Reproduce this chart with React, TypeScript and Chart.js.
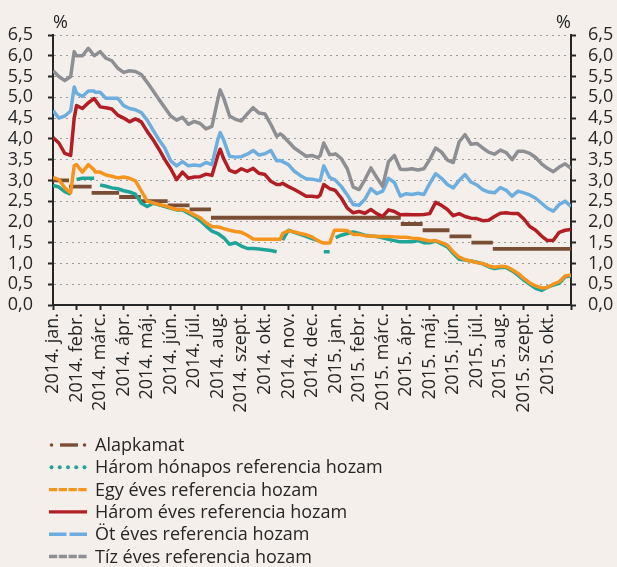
import React, { useEffect, useRef } from "react";
import { Chart, registerables } from "chart.js";
Chart.register(...registerables);

// x position = months elapsed since 2014-01-01
const dates = [
  0, 0.25, 0.5, 0.75, 0.9, 1, 1.25, 1.5, 1.75, 1.8,
  2, 2.25, 2.5, 2.75, 3, 3.25, 3.5, 3.75, 4, 4.25, 4.5, 4.75, 5, 5.25, 5.5, 5.75, 6, 6.25, 6.5, 6.75, 7,
  7.1,
  7.25, 7.5, 7.75, 8, 8.25, 8.5, 8.75, 9, 9.25, 9.5,
  9.65,
  9.75, 10, 10.25, 10.5, 10.75, 11, 11.25,
  11.35,
  11.5, 11.75,
  11.95,
  12, 12.25, 12.5, 12.75, 13, 13.25, 13.5, 13.75, 14, 14.25, 14.5, 14.75, 15, 15.25, 15.5, 15.75,
  16, 16.25, 16.5, 16.75, 17, 17.25, 17.5, 17.75, 18, 18.25, 18.5, 18.75, 19, 19.25, 19.5, 19.75,
  20, 20.25, 20.5, 20.75, 21, 21.25, 21.5, 21.75, 22,
];

const monthLabels = [
  "2014. jan.", "2014. febr.", "2014. márc.", "2014. ápr.", "2014. máj.", "2014. jún.",
  "2014. júl.", "2014. aug.", "2014. szept.", "2014. okt.", "2014. nov.", "2014. dec.",
  "2015. jan.", "2015. febr.", "2015. márc.", "2015. ápr.", "2015. máj.", "2015. jún.",
  "2015. júl.", "2015. aug.", "2015. szept.", "2015. okt.",
];

const seriesNames = [
  "Alapkamat",
  "Három hónapos referencia hozam",
  "Egy éves referencia hozam",
  "Három éves referencia hozam",
  "Öt éves referencia hozam",
  "Tíz éves referencia hozam",
];

// Base rate (step changes)
const baseRateStarts = [0, 0.68, 1.64, 2.81, 3.73, 4.87, 5.8, 6.71, 14.77, 15.7, 16.84, 17.77, 18.68];
const baseRateValues = [3.0, 2.85, 2.7, 2.6, 2.5, 2.4, 2.3, 2.1, 1.95, 1.8, 1.65, 1.5, 1.35];
const baseRateEnd = 22;

const threeMonth = [
  2.88, 2.84, 2.73, 2.67, null, 3.02, 3.05, 3.05, 3.05, null,
  2.89, 2.86, 2.82, 2.8, 2.75, 2.72, 2.67, 2.45, 2.37, 2.45, 2.41, 2.37, 2.33, 2.29, 2.29, 2.21, 2.13, 2.03, 1.9, 1.78, 1.72,
  1.68,
  1.62, 1.46, 1.5, 1.42, 1.36, 1.36, 1.35, 1.33, 1.31, 1.28,
  null,
  1.56, 1.8, 1.75, 1.7, 1.65, 1.6, 1.55,
  null,
  1.28, 1.28,
  null,
  1.62, 1.68, 1.72, 1.76, 1.72, 1.68, 1.66, 1.65, 1.62, 1.58, 1.55, 1.52, 1.52, 1.52, 1.55, 1.5,
  1.5, 1.54, 1.47, 1.4, 1.24, 1.1, 1.08, 1.06, 1.03, 0.99, 0.92, 0.88, 0.9, 0.9, 0.82, 0.72,
  0.6, 0.5, 0.4, 0.35, 0.43, 0.48, 0.52, 0.68, 0.7,
];

const oneYear = [
  3.07, 3.02, 2.82, 2.7, 3.35, 3.38, 3.2, 3.38, 3.25, 3.2,
  3.2, 3.13, 3.1, 3.06, 3.08, 3.05, 2.99, 2.75, 2.5, 2.46, 2.42, 2.39, 2.34, 2.3, 2.3, 2.25, 2.17, 2.1, 1.98, 1.89, 1.88,
  1.87,
  1.84, 1.8, 1.77, 1.75, 1.68, 1.59, 1.58, 1.58, 1.58, 1.58,
  1.58,
  1.72, 1.79, 1.76, 1.72, 1.69, 1.64, 1.55,
  1.52,
  1.49, 1.49,
  1.8,
  1.8, 1.8, 1.79, 1.7, 1.7, 1.67, 1.66, 1.65, 1.65, 1.65, 1.64, 1.63, 1.63, 1.61, 1.6, 1.57,
  1.54, 1.55, 1.5, 1.44, 1.28, 1.15, 1.09, 1.06, 1.02, 1.0, 0.94, 0.91, 0.93, 0.92, 0.85, 0.76,
  0.64, 0.53, 0.46, 0.41, 0.42, 0.5, 0.56, 0.7, 0.72,
];

const threeYear = [
  4.03, 3.9, 3.65, 3.6, 4.5, 4.8, 4.73, 4.87, 4.97, 4.93,
  4.77, 4.75, 4.72, 4.57, 4.5, 4.41, 4.48, 4.41, 4.18, 3.98, 3.75, 3.5, 3.28, 3.02, 3.2, 3.05, 3.08, 3.09, 3.15, 3.12, 3.6,
  3.75,
  3.52, 3.24, 3.19, 3.28, 3.22, 3.29, 3.17, 3.14, 2.98, 2.9,
  2.9,
  2.93, 2.85, 2.78, 2.7, 2.62, 2.62, 2.6,
  2.65,
  2.9, 2.8,
  2.77,
  2.75, 2.57, 2.33, 2.22, 2.25, 2.21, 2.3, 2.2, 2.13, 2.29, 2.25, 2.17, 2.18, 2.17, 2.17, 2.18,
  2.2, 2.47, 2.4, 2.3, 2.15, 2.2, 2.13, 2.09, 2.08, 2.03, 2.04, 2.13, 2.21, 2.22, 2.2, 2.2,
  2.07, 1.89, 1.8, 1.66, 1.55, 1.56, 1.75, 1.8, 1.82,
];

const fiveYear = [
  4.68, 4.5, 4.55, 4.67, 5.25, 5.1, 5.02, 5.15, 5.15, 5.12,
  5.12, 4.98, 4.98, 4.98, 4.8, 4.73, 4.7, 4.63, 4.45, 4.21, 3.98, 3.78, 3.47, 3.35, 3.45, 3.35, 3.37, 3.35, 3.43, 3.38, 3.98,
  4.15,
  3.97, 3.58, 3.56, 3.57, 3.63, 3.72, 3.61, 3.64, 3.72, 3.47,
  3.48,
  3.45, 3.38, 3.22, 3.12, 3.04, 3.03, 3.0,
  3.0,
  3.35, 3.07,
  3.02,
  3.0, 2.85, 2.65, 2.42, 2.4, 2.55, 2.8, 2.68, 2.74, 3.05, 2.95, 2.62, 2.68, 2.66, 2.69, 2.66,
  2.92, 3.16, 3.05, 2.9, 2.82, 3.0, 3.14, 2.96, 2.89, 2.78, 2.72, 2.7, 2.83, 2.76, 2.62, 2.74,
  2.7, 2.65, 2.57, 2.45, 2.33, 2.26, 2.42, 2.5, 2.37,
];

const tenYear = [
  5.64, 5.5, 5.4, 5.5, 6.1, 6.0, 6.0, 6.18, 6.0, 6.02,
  6.1, 5.94, 5.88, 5.7, 5.6, 5.64, 5.62, 5.55, 5.36, 5.16, 4.95, 4.75, 4.55, 4.45, 4.52, 4.35, 4.42, 4.37, 4.24, 4.3, 4.95,
  5.18,
  4.98, 4.55, 4.47, 4.43, 4.6, 4.75, 4.62, 4.6, 4.35, 4.06,
  4.12,
  4.08, 3.93, 3.78, 3.68, 3.58, 3.6, 3.55,
  3.6,
  3.9, 3.62,
  3.63,
  3.64, 3.52, 3.28, 2.84, 2.78, 3.02, 3.3, 3.07, 2.86, 3.45, 3.6, 3.27, 3.26, 3.28, 3.25, 3.28,
  3.5, 3.78, 3.68, 3.49, 3.43, 3.93, 4.1, 3.87, 3.89, 3.78, 3.68, 3.63, 3.73, 3.67, 3.5, 3.7,
  3.7, 3.65, 3.55, 3.4, 3.29, 3.21, 3.32, 3.4, 3.29,
];

const BG = "#f5efeb";
const TEXT = "#262626";
const AXIS = "#262626";
const FONT = "'Open Sans', sans-serif";
const COLORS = ["#7a4e35", "#1ea597", "#f7941d", "#b21e24", "#6daedf", "#8e8f93"];
const MARKERS = ["dashdot", "dots", "short", "solid", "long", "short"];

function pts(vals: (number | null)[]) {
  return dates.map((d, i) => ({ x: d, y: vals[i] }));
}

function baseRatePoints() {
  const out: { x: number; y: number | null }[] = [];
  baseRateStarts.forEach((s, i) => {
    const e = i + 1 < baseRateStarts.length ? baseRateStarts[i + 1] : baseRateEnd;
    out.push({ x: s, y: baseRateValues[i] });
    out.push({ x: e, y: baseRateValues[i] });
    if (i + 1 < baseRateStarts.length) out.push({ x: e, y: null });
  });
  return out;
}

function drawMarker(ctx: CanvasRenderingContext2D, kind: string, x0: number, x1: number, y: number, color: string) {
  ctx.save();
  ctx.strokeStyle = color;
  ctx.fillStyle = color;
  ctx.lineWidth = 3.4;
  ctx.lineCap = "butt";
  const line = (a: number, b: number) => {
    ctx.beginPath();
    ctx.moveTo(a, y);
    ctx.lineTo(b, y);
    ctx.stroke();
  };
  const dot = (cx: number, r: number) => {
    ctx.beginPath();
    ctx.arc(cx, y, r, 0, Math.PI * 2);
    ctx.fill();
  };
  if (kind === "dashdot") {
    dot(x0 + 2.5, 1.8);
    dot(x1 - 2.5, 1.8);
    line(x0 + 11, x1 - 9);
  } else if (kind === "dots") {
    for (let k = 0; k < 5; k++) dot(x0 + 2.5 + k * ((x1 - x0 - 5) / 4), 2);
  } else if (kind === "short") {
    ctx.setLineDash([8.2, 1.6]);
    line(x0, x1);
  } else if (kind === "long") {
    ctx.setLineDash([17.5, 3]);
    line(x0, x1);
  } else {
    line(x0, x1);
  }
  ctx.setLineDash([]);
  ctx.restore();
}

const decorPlugin = {
  id: "decor",
  beforeDraw(chart: any) {
    const { ctx, width, height } = chart;
    ctx.save();
    ctx.setLineDash([]);
    ctx.fillStyle = BG;
    ctx.fillRect(0, 0, width, height);
    ctx.restore();
  },
  afterDraw(chart: any) {
    const ctx: CanvasRenderingContext2D = chart.ctx;
    const area = chart.chartArea;
    ctx.save();
    ctx.fillStyle = TEXT;
    ctx.font = `18px ${FONT}`;
    ctx.textBaseline = "alphabetic";
    ctx.textAlign = "left";
    ctx.fillText("%", area.left, area.top - 7);
    ctx.textAlign = "right";
    ctx.fillText("%", area.right, area.top - 7);
    // legend (one column)
    const y0 = 445;
    const step = 22.3;
    ctx.textAlign = "left";
    ctx.textBaseline = "middle";
    seriesNames.forEach((name, i) => {
      const y = y0 + i * step;
      drawMarker(ctx, MARKERS[i], 49, 87, y, COLORS[i]);
      ctx.fillStyle = TEXT;
      ctx.fillText(name, 95, y + 1);
    });
    ctx.restore();
  },
};

export default function App() {
  const ref = useRef<HTMLCanvasElement>(null);
  useEffect(() => {
    document.body.style.margin = "0";
    document.body.style.background = BG;
    const seriesData = [baseRatePoints(), pts(threeMonth), pts(oneYear), pts(threeYear), pts(fiveYear), pts(tenYear)];
    const orders = [6, 5, 4, 3, 2, 1];
    const tickFont = { family: FONT, size: 18 };
    const chart = new Chart(ref.current as HTMLCanvasElement, {
      type: "line",
      data: {
        datasets: seriesData.map((d, i) => ({
          label: seriesNames[i],
          data: d,
          borderColor: COLORS[i],
          backgroundColor: COLORS[i],
          borderWidth: i === 0 ? 3.8 : 3.5,
          borderDash: [],
          borderCapStyle: "butt",
          pointRadius: 0,
          tension: 0,
          spanGaps: false,
          borderJoinStyle: "round",
          order: orders[i],
        })),
      },
      options: {
        animation: false,
        responsive: false,
        events: [],
        layout: { padding: { top: 35, bottom: 130, left: 0, right: 0 } },
        plugins: { legend: { display: false }, tooltip: { enabled: false } },
        scales: {
          x: {
            type: "linear",
            min: 0,
            max: 22,
            afterFit: (s: any) => {
              s.height = 132;
            },
            ticks: {
              stepSize: 1,
              autoSkip: false,
              maxRotation: 90,
              minRotation: 90,
              padding: 3,
              color: TEXT,
              font: tickFont,
              callback: (v: any) => monthLabels[Math.round(Number(v))] ?? "",
            },
            grid: {
              drawOnChartArea: false,
              drawTicks: true,
              tickLength: 5,
              tickColor: AXIS,
              tickWidth: 2,
            },
            border: { display: true, color: AXIS, width: 2 },
          },
          y: {
            position: "left",
            min: 0,
            max: 6.5,
            afterFit: (s: any) => {
              s.width = 53;
            },
            ticks: {
              stepSize: 0.5,
              autoSkip: false,
              padding: 15,
              color: TEXT,
              font: tickFont,
              callback: (v: any) => Number(v).toFixed(1).replace(".", ","),
            },
            grid: {
              drawOnChartArea: true,
              color: (c: any) => (c.tick && c.tick.value === 0 ? "rgba(0,0,0,0)" : "#9c9c9c"),
              lineWidth: 1,
              tickLength: 5,
              tickColor: AXIS,
              tickWidth: 2,
            },
            border: { display: true, color: AXIS, width: 2, dash: [2, 4] },
          },
          y2: {
            position: "right",
            min: 0,
            max: 6.5,
            afterFit: (s: any) => {
              s.width = 46;
            },
            ticks: {
              stepSize: 0.5,
              autoSkip: false,
              padding: 12,
              color: TEXT,
              font: tickFont,
              callback: (v: any) => Number(v).toFixed(1).replace(".", ","),
            },
            grid: {
              drawOnChartArea: false,
              tickLength: 5,
              tickColor: AXIS,
              tickWidth: 2,
            },
            border: { display: true, color: AXIS, width: 2 },
          },
        },
      } as any,
      plugins: [decorPlugin],
    } as any);
    return () => chart.destroy();
  }, []);
  return <canvas ref={ref} width={617} height={567} style={{ display: "block", width: 617, height: 567 }} />;
}
